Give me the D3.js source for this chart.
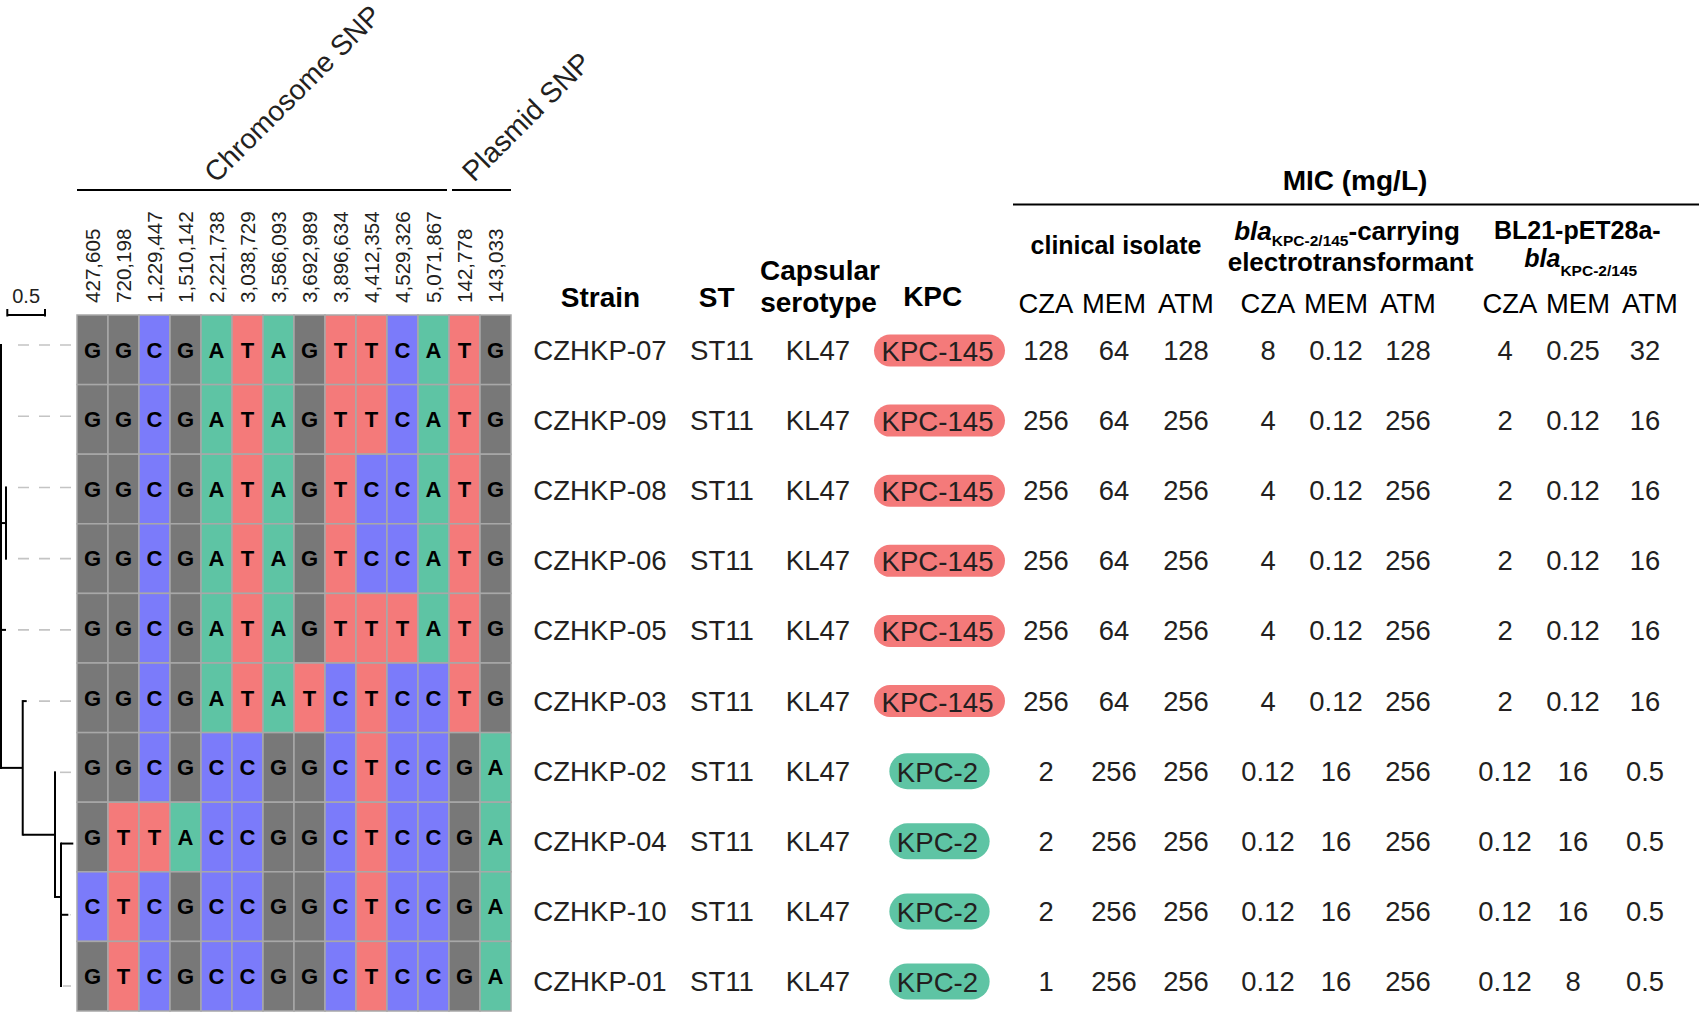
<!DOCTYPE html>
<html>
<head>
<meta charset="utf-8">
<script src="https://cdn.jsdelivr.net/npm/d3@7"></script>
<style>
  body { margin: 0; background: #fff; }
  svg text { font-family: Arial, "Liberation Sans", sans-serif; fill: #231f20; }
</style>
</head>
<body>
<div id="chart"></div>
<script>
// ---- data ----
var chromPositions = ["427,605", "720,198", "1,229,447", "1,510,142", "2,221,738", "3,038,729",
                      "3,586,093", "3,692,989", "3,896,634", "4,412,354", "4,529,326", "5,071,867"];
var plasmidPositions = ["142,778", "143,033"];

var strains = ["CZHKP-07", "CZHKP-09", "CZHKP-08", "CZHKP-06", "CZHKP-05",
               "CZHKP-03", "CZHKP-02", "CZHKP-04", "CZHKP-10", "CZHKP-01"];

// one string per strain, one base per SNP column (12 chromosome + 2 plasmid)
var snpCalls = ["GGCGATAGTTCATG", "GGCGATAGTTCATG", "GGCGATAGTCCATG", "GGCGATAGTCCATG",
                "GGCGATAGTTTATG", "GGCGATATCTCCTG", "GGCGCCGGCTCCGA", "GTTACCGGCTCCGA",
                "CTCGCCGGCTCCGA", "GTCGCCGGCTCCGA"];

var sequenceTypes = ["ST11", "ST11", "ST11", "ST11", "ST11", "ST11", "ST11", "ST11", "ST11", "ST11"];
var serotypes = ["KL47", "KL47", "KL47", "KL47", "KL47", "KL47", "KL47", "KL47", "KL47", "KL47"];
var kpcTypes = ["KPC-145", "KPC-145", "KPC-145", "KPC-145", "KPC-145", "KPC-145",
                "KPC-2", "KPC-2", "KPC-2", "KPC-2"];

var drugs = ["CZA", "MEM", "ATM"];
// MIC values (mg/L), columns CZA, MEM, ATM
var micClinical = [[128, 64, 128], [256, 64, 256], [256, 64, 256], [256, 64, 256], [256, 64, 256],
                   [256, 64, 256], [2, 256, 256], [2, 256, 256], [2, 256, 256], [1, 256, 256]];
var micElectro = [[8, 0.12, 128], [4, 0.12, 256], [4, 0.12, 256], [4, 0.12, 256], [4, 0.12, 256],
                  [4, 0.12, 256], [0.12, 16, 256], [0.12, 16, 256], [0.12, 16, 256], [0.12, 16, 256]];
var micBL21 = [[4, 0.25, 32], [2, 0.12, 16], [2, 0.12, 16], [2, 0.12, 16], [2, 0.12, 16],
               [2, 0.12, 16], [0.12, 16, 0.5], [0.12, 16, 0.5], [0.12, 16, 0.5], [0.12, 8, 0.5]];

// phylogeny: parent links with branch lengths
var treeNodes = [
  {id: "root", parent: null, length: 0},
  {id: "CZHKP-07", parent: "root", length: 0},
  {id: "CZHKP-09", parent: "root", length: 0},
  {id: "n1", parent: "root", length: 0.066},
  {id: "CZHKP-08", parent: "n1", length: 0},
  {id: "CZHKP-06", parent: "n1", length: 0},
  {id: "CZHKP-05", parent: "root", length: 0.066},
  {id: "n2", parent: "root", length: 0.288},
  {id: "CZHKP-03", parent: "n2", length: 0.053},
  {id: "n3", parent: "n2", length: 0.428},
  {id: "CZHKP-02", parent: "n3", length: 0},
  {id: "n4", parent: "n3", length: 0.08},
  {id: "CZHKP-04", parent: "n4", length: 0.163},
  {id: "n5", parent: "n4", length: 0},
  {id: "CZHKP-10", parent: "n5", length: 0.097},
  {id: "CZHKP-01", parent: "n5", length: 0}
];

// ---- drawing ----
var width = 1699, height = 1012;
var svg = d3.select("#chart").append("svg")
    .attr("width", width)
    .attr("height", height);
svg.append("rect").attr("width", width).attr("height", height).attr("fill", "#fff");

var positions = chromPositions.concat(plasmidPositions);
var baseColor = d3.scaleOrdinal(["A", "C", "G", "T"], ["#5ec4a4", "#7b7bfa", "#787878", "#f47a7a"]);

var colX = d3.scaleBand().domain(d3.range(positions.length)).range([77, 511]);
var rowY = d3.scaleBand().domain(strains).range([315, 1011]);
var tableY = d3.scalePoint().domain(strains).range([350, 981]);
var leafY = d3.scalePoint().domain(strains).range([345, 986]);
var treeX = d3.scaleLinear().domain([0, 1]).range([1, 76.4]);

// tree
var root = d3.stratify()
    .id(function(d) { return d.id; })
    .parentId(function(d) { return d.parent; })(treeNodes);
root.eachBefore(function(n) { n.dist = n.parent ? n.parent.dist + n.data.length : 0; });
root.eachAfter(function(n) {
  if (n.children) n.y = (n.children[0].y + n.children[n.children.length - 1].y) / 2;
  else n.y = leafY(n.id);
});

var tree = svg.append("g");
// dashed guides from tip to alignment
root.leaves().forEach(function(n) {
  var start = Math.max(treeX(n.dist) + 2, 17);
  if (start < 71) {
    tree.append("line")
      .attr("x1", 71).attr("x2", start)
      .attr("y1", n.y).attr("y2", n.y)
      .attr("stroke", "#c4c4c4").attr("stroke-width", 1.6)
      .attr("stroke-dasharray", "11,10");
  }
});
root.descendants().forEach(function(n) {
  if (n.parent && n.data.length > 0) {
    tree.append("line")
      .attr("x1", treeX(n.parent.dist)).attr("x2", treeX(n.dist))
      .attr("y1", n.y).attr("y2", n.y)
      .attr("stroke", "#000").attr("stroke-width", 2);
  }
  if (n.children) {
    tree.append("line")
      .attr("x1", treeX(n.dist)).attr("x2", treeX(n.dist))
      .attr("y1", n.children[0].y - 1).attr("y2", n.children[n.children.length - 1].y + 1)
      .attr("stroke", "#000").attr("stroke-width", 2);
  }
});

// scale bar
var barLen = treeX(0.5) - treeX(0);
var sb = svg.append("g").attr("transform", "translate(7.3,315)");
sb.append("line").attr("x1", 0).attr("x2", barLen).attr("y1", 0).attr("y2", 0)
  .attr("stroke", "#000").attr("stroke-width", 2);
sb.selectAll(".tk").data([0, barLen]).enter().append("line")
  .attr("x1", function(d) { return d; }).attr("x2", function(d) { return d; })
  .attr("y1", -6).attr("y2", 1.5)
  .attr("stroke", "#000").attr("stroke-width", 2);
sb.append("text").attr("x", barLen / 2).attr("y", -12.5)
  .attr("text-anchor", "middle").attr("font-size", 20).text("0.5");

// SNP matrix
var cells = [];
strains.forEach(function(s, i) {
  snpCalls[i].split("").forEach(function(b, j) { cells.push({strain: s, col: j, base: b}); });
});
var mat = svg.append("g");
mat.selectAll("rect").data(cells).enter().append("rect")
  .attr("x", function(d) { return colX(d.col); })
  .attr("y", function(d) { return rowY(d.strain); })
  .attr("width", colX.bandwidth())
  .attr("height", rowY.bandwidth())
  .attr("fill", function(d) { return baseColor(d.base); })
  .attr("stroke", "#a8a8a8").attr("stroke-width", 1.5);
mat.selectAll("text").data(cells).enter().append("text")
  .attr("x", function(d) { return colX(d.col) + colX.bandwidth() / 2; })
  .attr("y", function(d) { return rowY(d.strain) + rowY.bandwidth() / 2 + 7.8; })
  .attr("text-anchor", "middle")
  .attr("font-size", 22).attr("font-weight", "bold")
  .style("fill", "#000")
  .text(function(d) { return d.base; });

// position labels
svg.append("g").selectAll("text").data(positions).enter().append("text")
  .attr("transform", function(d, i) {
    return "translate(" + (colX(i) + colX.bandwidth() / 2 + 7.4) + ",303) rotate(-90)";
  })
  .attr("font-size", 20.6)
  .text(function(d) { return d; });

// chromosome / plasmid brackets
var nChrom = chromPositions.length;
svg.append("line").attr("x1", colX(0)).attr("x2", colX(nChrom - 1) + colX.bandwidth() - 2)
  .attr("y1", 190).attr("y2", 190).attr("stroke", "#000").attr("stroke-width", 2);
svg.append("line").attr("x1", colX(nChrom) + 3).attr("x2", colX(positions.length - 1) + colX.bandwidth())
  .attr("y1", 190).attr("y2", 190).attr("stroke", "#000").attr("stroke-width", 2);
svg.append("text").attr("transform", "translate(216,184) rotate(-45)")
  .attr("font-size", 28.3).text("Chromosome SNP");
svg.append("text").attr("transform", "translate(474,183) rotate(-45)")
  .attr("font-size", 28.5).text("Plasmid SNP");

// table headers
function header(x, y, txt) {
  svg.append("text").attr("x", x).attr("y", y).attr("text-anchor", "middle")
    .attr("font-size", 28).attr("font-weight", "bold").style("fill", "#000").text(txt);
}
header(600.5, 307, "Strain");
header(716.7, 307, "ST");
header(820, 280, "Capsular");
header(818.5, 312, "serotype");
header(932.7, 306, "KPC");

// strain / ST / serotype columns
var rows = svg.append("g").selectAll("g").data(strains).enter().append("g")
  .attr("transform", function(d) { return "translate(0," + tableY(d) + ")"; });
rows.append("text").attr("x", 600).attr("y", 10).attr("text-anchor", "middle")
  .attr("font-size", 27.6).text(function(d) { return d; });
rows.append("text").attr("x", 722).attr("y", 10).attr("text-anchor", "middle")
  .attr("font-size", 27.6).text(function(d, i) { return sequenceTypes[i]; });
rows.append("text").attr("x", 818).attr("y", 10).attr("text-anchor", "middle")
  .attr("font-size", 27.6).text(function(d, i) { return serotypes[i]; });

// KPC pills
var kpcColor = d3.scaleOrdinal(["KPC-145", "KPC-2"], ["#f47a7a", "#5ec4a4"]);
var kpcHeight = d3.scaleOrdinal(["KPC-145", "KPC-2"], [32, 36]);
rows.each(function(d, i) {
  var g = d3.select(this);
  var pill = g.append("rect");
  var t = g.append("text").attr("x", 937.5).attr("y", 11).attr("text-anchor", "middle")
    .attr("font-size", 27.6).text(kpcTypes[i]);
  var w = t.node().getComputedTextLength() + 19;
  var h = kpcHeight(kpcTypes[i]);
  pill.attr("x", 939.5 - w / 2).attr("y", 0.5 - h / 2)
    .attr("width", w).attr("height", h).attr("rx", h / 2)
    .attr("fill", kpcColor(kpcTypes[i]));
});

// MIC block
var groupLeft = [1046, 1268, 1505];
var drugStep = [0, 68, 140];
var headShift = [0, 0, 5];
var micSets = [micClinical, micElectro, micBL21];

svg.append("text").attr("x", 1355).attr("y", 190).attr("text-anchor", "middle")
  .attr("font-size", 28).attr("font-weight", "bold").style("fill", "#000").text("MIC (mg/L)");
svg.append("line").attr("x1", 1013).attr("x2", width).attr("y1", 204.5).attr("y2", 204.5)
  .attr("stroke", "#000").attr("stroke-width", 2);

function sub(x, y, size, parts) {
  var t = svg.append("text").attr("x", x).attr("y", y).attr("text-anchor", "middle")
    .attr("font-weight", "bold").attr("font-size", size).style("fill", "#000");
  parts.forEach(function(p) {
    var s = t.append("tspan").text(p.t);
    if (p.italic) s.attr("font-style", "italic");
    if (p.size) s.attr("font-size", p.size);
    if (p.dy) s.attr("dy", p.dy);
  });
}
sub(1116, 254, 25, [{t: "clinical isolate"}]);
sub(1347, 240, 26, [{t: "bla", italic: true}, {t: "KPC-2/145", size: 15.5, dy: 6}, {t: "-carrying", dy: -6}]);
sub(1350.5, 270.5, 26, [{t: "electrotransformant"}]);
sub(1577.3, 239.3, 25, [{t: "BL21-pET28a-"}]);
sub(1580.7, 267.3, 25, [{t: "bla", italic: true}, {t: "KPC-2/145", size: 15.5, dy: 8.5}]);

micSets.forEach(function(set, gi) {
  svg.append("g").selectAll("text").data(drugs).enter().append("text")
    .attr("x", function(d, k) { return groupLeft[gi] + drugStep[k] + headShift[gi]; })
    .attr("y", 313).attr("text-anchor", "middle")
    .attr("font-size", 27.4).style("fill", "#000")
    .text(function(d) { return d; });
  rows.each(function(d, i) {
    d3.select(this).selectAll(null).data(set[i]).enter().append("text")
      .attr("x", function(v, k) { return groupLeft[gi] + drugStep[k]; })
      .attr("y", 10).attr("text-anchor", "middle")
      .attr("font-size", 27.4)
      .text(function(v) { return String(v); });
  });
});
</script>
</body>
</html>
